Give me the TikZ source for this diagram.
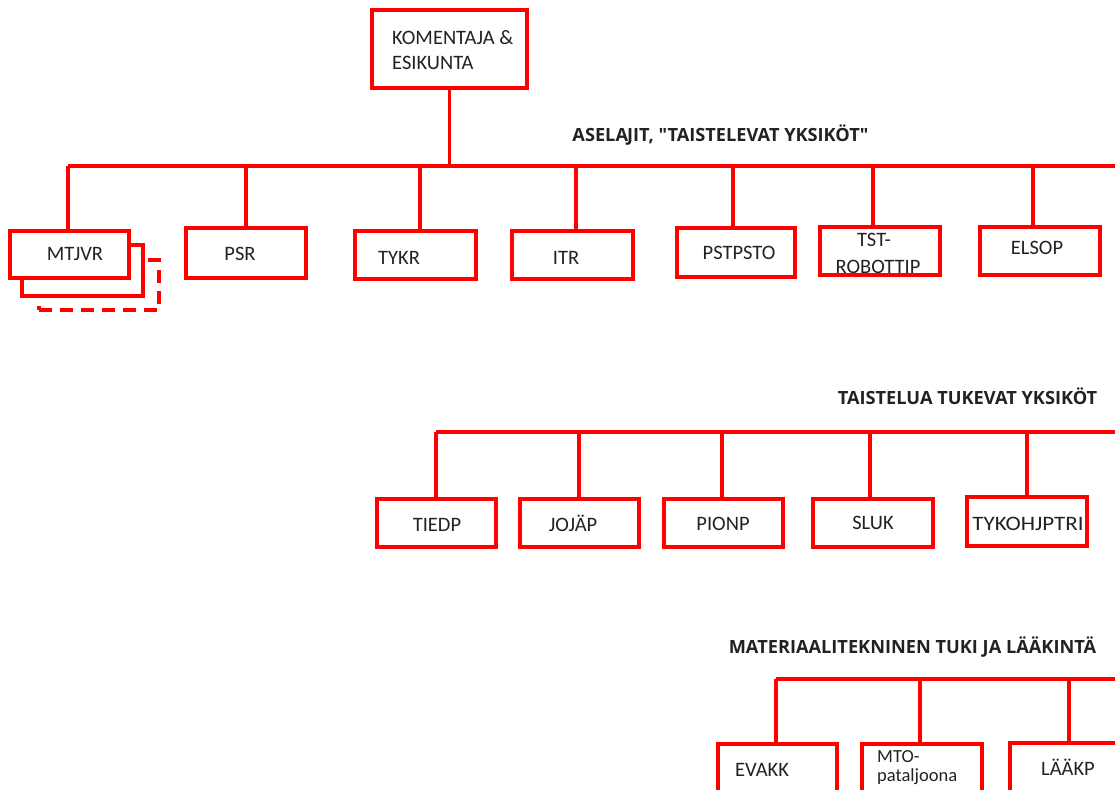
\documentclass[tikz,border=0pt]{standalone}
\usepackage{fontspec}
\setmainfont{Carlito}
\newfontfamily\headfam{Open Sans}
\definecolor{txt}{HTML}{222222}
\definecolor{orgred}{HTML}{FF0000}

\begin{document}
\begin{tikzpicture}[x=1pt,y=-1pt,
  orgbox/.style={minimum width=120pt, minimum height=48pt, inner sep=0pt, outer sep=0pt},
  boxline/.style={draw=orgred, line width=3.6pt},
  stackbox/.style={orgbox, boxline, fill=white},
  lbl/.style={text=txt, font=\fontsize{20.5}{25}\selectfont, inner sep=0pt, anchor=base},
  lblw/.style={lbl, anchor=base west},
  head/.style={text=txt, font=\headfam\bfseries\fontsize{18.2}{21}\selectfont, inner sep=0pt, anchor=base},
  link/.style={draw=orgred, line width=3.2pt}]
\clip (0,0) rectangle (1115,789);
\fill[white] (0,0) rectangle (1115,789);

% ---- box frames (outlines are stroked after the labels) ----
\node[orgbox, minimum width=155pt, minimum height=78pt] (hq) at (449.5,49) {};
\node[orgbox, minimum height=50pt] (psr) at (246,253) {};
\node[orgbox, minimum width=121pt] (tykr) at (415.5,255) {};
\node[orgbox, minimum width=121pt] (itr) at (572.5,255) {};
\node[orgbox, minimum width=118pt, minimum height=49pt] (pstpsto) at (736,252.5) {};
\node[orgbox] (tst) at (880,251) {};
\node[orgbox] (elsop) at (1040,251) {};

\node[orgbox, minimum width=119pt] (tiedp) at (436.5,523) {};
\node[orgbox, minimum width=119pt] (jojap) at (579.5,523) {};
\node[orgbox, minimum width=119pt] (pionp) at (723.5,523) {};
\node[orgbox] (sluk) at (873,523) {};
\node[orgbox, minimum height=49pt] (tykohj) at (1027,521.5) {};

\node[orgbox, minimum width=119pt, minimum height=60pt] (evakk) at (777.5,774) {};
\node[orgbox, minimum height=60pt] (mto) at (922,774) {};
\node[orgbox, minimum height=60pt] (laakp) at (1070,773) {};

% ---- bus lines ----
\coordinate (bus1w) at (68,166);
\coordinate (bus1e) at (1120,166);
\coordinate (bus2w) at (436,432);
\coordinate (bus2e) at (1120,432);
\coordinate (bus3w) at (776,679);
\coordinate (bus3e) at (1120,679);

\draw[link] (bus1w) -- (bus1e);
\draw[link] (bus2w) -- (bus2e);
\draw[link] (bus3w) -- (bus3e);

% ---- stacked MTJVR boxes ----
\node[stackbox, dash pattern=on 13pt off 8pt, minimum width=120pt, minimum height=50pt] (mtjvr3) at (99,285) {};
\node[stackbox, minimum width=121pt, minimum height=51pt] (mtjvr2) at (82.5,270.5) {};
\node[stackbox, minimum width=119pt, minimum height=47pt] (mtjvr) at (69.5,254.5) {};

% ---- stems ----
\draw[link] (hq.south) -- (hq.south |- bus1w);
\draw[link] ([xshift=-1.5pt]mtjvr.north) -- ([xshift=-1.5pt]mtjvr.north |- bus1w);
\draw[link] (psr.north) -- (psr.north |- bus1w);
\draw[link] ([xshift=4.5pt]tykr.north) -- ([xshift=4.5pt]tykr.north |- bus1w);
\draw[link] ([xshift=3.5pt]itr.north) -- ([xshift=3.5pt]itr.north |- bus1w);
\draw[link] ([xshift=-3pt]pstpsto.north) -- ([xshift=-3pt]pstpsto.north |- bus1w);
\draw[link] ([xshift=-7pt]tst.north) -- ([xshift=-7pt]tst.north |- bus1w);
\draw[link] ([xshift=-7pt]elsop.north) -- ([xshift=-7pt]elsop.north |- bus1w);

\draw[link] ([xshift=-0.5pt]tiedp.north) -- ([xshift=-0.5pt]tiedp.north |- bus2w);
\draw[link] ([xshift=-0.5pt]jojap.north) -- ([xshift=-0.5pt]jojap.north |- bus2w);
\draw[link] ([xshift=-1.5pt]pionp.north) -- ([xshift=-1.5pt]pionp.north |- bus2w);
\draw[link] ([xshift=-3pt]sluk.north) -- ([xshift=-3pt]sluk.north |- bus2w);
\draw[link] (tykohj.north) -- (tykohj.north |- bus2w);

\draw[link] ([xshift=-1.5pt]evakk.north) -- ([xshift=-1.5pt]evakk.north |- bus3w);
\draw[link] ([xshift=-2pt]mto.north) -- ([xshift=-2pt]mto.north |- bus3w);
\draw[link] ([xshift=-1pt]laakp.north) -- ([xshift=-1pt]laakp.north |- bus3w);

% ---- headings ----
\node[head] (h1) at (720.5,141) {ASELA\kern-1pt JIT, "TAISTELEVAT YKSIKÖT"};
\node[head] (h2) at (967.5,404) {TAISTELUA TUKEVAT YKSIKÖT};
\node[head] (h3) at (912.5,653) {MATERIAALITEKNINEN TUKI JA LÄÄKINTÄ};

% ---- unit labels ----
\node[lblw] (hq1) at (392,44.6) {KOMENTAJA \&};
\node[lblw] (hq2) at (392,69.6) {ESIKUNTA};
\node[lbl] (t-mtjvr) at (75,260.6) {MTJVR};
\node[lbl] (t-psr) at (240,260.6) {PSR};
\node[lbl] (t-tykr) at (399,264.6) {TYKR};
\node[lbl] (t-itr) at (566,264.6) {ITR};
\node[lbl] (t-pstpsto) at (739,259.6) {PSTPSTO};
\node[lbl] (t-tst1) at (874,246.6) {TST-};
\node[lbl] (t-tst2) at (878,273.5) {ROBOTTIP};
\node[lbl] (t-elsop) at (1037,254.6) {ELSOP};

\node[lbl] (t-tiedp) at (437,531.6) {TIEDP};
\node[lbl] (t-jojap) at (573,531.6) {JOJÄP};
\node[lbl] (t-pionp) at (723,530.6) {PIONP};
\node[lbl] (t-sluk) at (873,529.6) {SLUK};
\node[lbl] (t-tykohj) at (1028,530.6) {\scalebox{1.12}[1]{TYKOHJPTRI}};

\node[lbl] (t-evakk) at (762,776.6) {EVAKK};
\node[lblw, font=\fontsize{18.5}{22}\selectfont] (t-mto1) at (877,762) {MTO-};
\node[lblw, font=\fontsize{18.5}{22}\selectfont] (t-mto2) at (877,781.3) {pataljoona};
\node[lbl] (t-laakp) at (1068,775.6) {LÄÄKP};

% ---- box outlines over the labels ----
\foreach \b in {hq,psr,tykr,itr,pstpsto,tst,elsop,tiedp,jojap,pionp,sluk,tykohj,evakk,mto,laakp}
  \draw[boxline] (\b.north west) rectangle (\b.south east);
\end{tikzpicture}
\end{document}
